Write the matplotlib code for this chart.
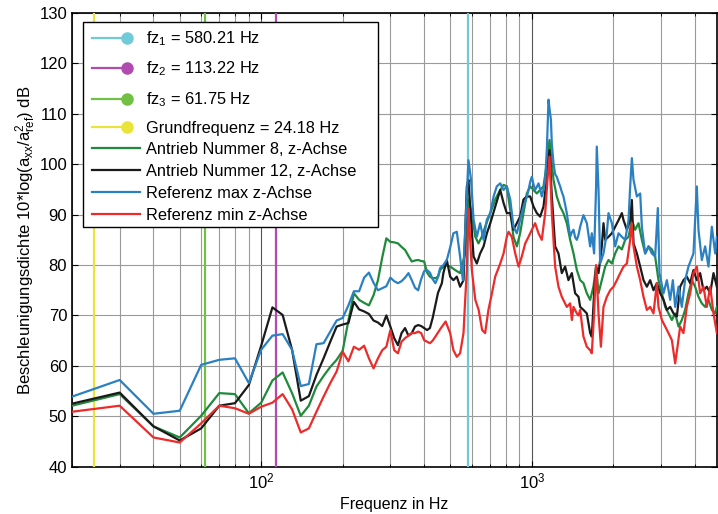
import matplotlib
matplotlib.use("Agg")
import matplotlib.pyplot as plt
from matplotlib.lines import Line2D
from matplotlib.patches import Rectangle
from matplotlib.legend_handler import HandlerBase
from matplotlib.ticker import LogLocator, NullFormatter, MultipleLocator

plt.rcParams['font.family'] = ['Liberation Sans', 'DejaVu Sans']
plt.rcParams['mathtext.fontset'] = 'custom'
plt.rcParams['mathtext.rm'] = 'Liberation Sans'
plt.rcParams['mathtext.it'] = 'Liberation Sans:italic'
plt.rcParams['mathtext.default'] = 'regular'

# Eigenfrequenzen (Stems)
stem_freqs = [580.21, 113.22, 61.75, 24.18]
stem_labels = ['fz$_1$ = 580.21 Hz', 'fz$_2$ = 113.22 Hz', 'fz$_3$ = 61.75 Hz',
               'Grundfrequenz = 24.18 Hz']
stem_colors = ['#6fcbd9', '#b24bb0', '#72c043', '#e9e43a']

# Referenz max z-Achse
f_max = [20, 30, 40, 50, 60, 70, 80, 90, 100, 110, 120, 130, 140, 150, 160, 170, 180,
         190, 200, 210, 220, 230, 240, 250, 260, 270, 280, 290, 300, 310, 320, 330, 340,
         350, 360, 370, 380, 390, 400, 410, 420, 430, 440, 450, 458, 471, 485, 499, 513,
         528, 543, 556, 567, 583, 596, 609, 626, 644, 663, 682, 702, 722, 742, 764, 786,
         808, 832, 855, 880, 905, 931, 958, 972, 986, 1000, 1014, 1028, 1043, 1058, 1073,
         1088, 1104, 1120, 1136, 1152, 1162, 1176, 1185, 1202, 1219, 1236, 1254, 1272,
         1290, 1308, 1327, 1346, 1365, 1385, 1405, 1425, 1445, 1466, 1487, 1508, 1551,
         1596, 1642, 1665, 1698, 1727, 1737, 1763, 1788, 1839, 1892, 1919, 1975, 2031,
         2090, 2150, 2212, 2276, 2308, 2341, 2374, 2443, 2513, 2549, 2622, 2698, 2775,
         2854, 2920, 2961, 3065, 3153, 3243, 3318, 3384, 3482, 3581, 3683, 3789, 3954,
         4068, 4126, 4245, 4367, 4493, 4623, 4756, 4824]
db_max = [53.9, 57.2, 50.5, 51.1, 60.2, 61.2, 61.5, 56.6, 63.2, 66.0, 66.3, 63.2, 56.0,
          56.4, 64.3, 64.5, 66.8, 69.0, 69.5, 72.0, 74.8, 74.8, 77.5, 78.5, 76.5, 75.0,
          75.4, 75.8, 77.5, 76.8, 76.4, 76.8, 77.5, 78.4, 77.0, 75.5, 75.0, 77.2, 78.8,
          79.0, 78.5, 77.2, 76.4, 77.6, 79.4, 80.0, 81.0, 83.5, 86.3, 86.6, 81.7, 77.0,
          87.0, 100.8, 96.9, 89.0, 85.6, 88.3, 85.0, 89.0, 90.3, 93.6, 95.6, 96.2, 94.9,
          95.6, 93.0, 87.6, 86.3, 89.0, 91.6, 93.5, 94.9, 96.5, 97.5, 96.0, 94.9, 95.5,
          96.2, 95.0, 93.6, 95.0, 96.9, 103.0, 112.8, 111.0, 108.8, 104.0, 100.2, 98.0,
          97.5, 96.5, 95.6, 94.5, 93.6, 92.0, 90.3, 88.0, 85.6, 86.5, 87.0, 85.5, 85.0,
          86.0, 87.6, 89.9, 88.3, 83.7, 86.3, 82.3, 95.6, 103.5, 94.9, 80.3, 82.3, 86.3,
          90.3, 88.3, 83.7, 86.3, 85.6, 85.0, 88.9, 95.6, 101.2, 96.9, 93.6, 94.2, 87.6,
          82.3, 83.7, 82.3, 81.7, 91.3, 78.4, 74.4, 77.0, 73.1, 77.0, 71.7, 75.7, 71.7,
          77.0, 79.7, 82.3, 95.6, 87.0, 81.0, 83.7, 79.7, 87.6, 82.3, 85.6]

# Antrieb Nummer 12, z-Achse
f_a12 = [20, 30, 40, 50, 60, 70, 80, 90, 100, 110, 120, 130, 140, 150, 160, 170, 180,
         190, 200, 210, 220, 230, 240, 250, 260, 270, 280, 290, 300, 310, 320, 330, 340,
         350, 360, 370, 380, 390, 400, 410, 420, 430, 440, 450, 465, 471, 485, 499, 513,
         528, 543, 559, 575, 583, 596, 609, 626, 644, 663, 682, 702, 732, 764, 786, 808,
         832, 855, 880, 905, 931, 958, 986, 1014, 1043, 1073, 1104, 1136, 1162, 1185,
         1219, 1254, 1290, 1327, 1365, 1405, 1445, 1487, 1508, 1551, 1596, 1642, 1665,
         1698, 1727, 1763, 1813, 1839, 1866, 1919, 1975, 2031, 2090, 2150, 2181, 2244,
         2308, 2341, 2374, 2443, 2513, 2585, 2660, 2735, 2814, 2895, 2979, 3065, 3153,
         3243, 3337, 3433, 3530, 3631, 3736, 3844, 3954, 4068, 4185, 4305, 4430, 4558,
         4689, 4824]
db_a12 = [52.5, 54.7, 48.0, 45.2, 47.6, 52.1, 52.6, 56.2, 64.0, 71.6, 70.1, 63.2, 53.1,
          54.0, 58.2, 61.5, 64.8, 67.8, 68.2, 68.5, 72.7, 71.2, 70.8, 70.3, 69.0, 68.6,
          67.9, 70.0, 67.8, 65.5, 64.1, 66.5, 67.5, 66.0, 66.5, 67.8, 68.1, 67.9, 67.5,
          67.1, 67.5, 69.5, 72.0, 74.5, 76.4, 78.4, 81.0, 77.7, 77.0, 77.7, 75.7, 77.0,
          95.6, 96.9, 89.0, 81.7, 80.3, 82.3, 83.7, 86.3, 88.3, 91.6, 94.9, 92.3, 90.3,
          90.3, 87.0, 88.3, 89.6, 93.0, 93.6, 93.6, 91.6, 90.3, 89.6, 91.6, 97.5, 102.8,
          93.6, 83.7, 82.3, 78.4, 79.7, 77.0, 78.4, 74.4, 73.7, 71.7, 71.1, 70.4, 66.5,
          65.8, 74.4, 79.7, 78.4, 83.7, 88.3, 85.0, 85.6, 86.3, 87.6, 88.9, 90.3, 88.9,
          87.0, 88.9, 92.9, 84.3, 82.3, 79.7, 77.0, 75.7, 77.0, 75.0, 76.4, 74.4, 73.1,
          71.1, 71.7, 70.4, 69.8, 75.7, 77.0, 77.7, 76.4, 79.0, 77.0, 78.4, 75.0, 75.7,
          74.4, 78.4, 75.7]

# Antrieb Nummer 8, z-Achse
f_a8 = [20, 30, 40, 50, 60, 70, 80, 90, 100, 110, 120, 130, 140, 150, 160, 170, 180,
        190, 200, 210, 220, 230, 240, 250, 260, 270, 280, 290, 300, 310, 320, 330, 340,
        350, 360, 370, 380, 390, 400, 410, 420, 430, 440, 450, 458, 478, 499, 521, 543,
        567, 583, 600, 618, 635, 653, 672, 702, 732, 764, 786, 808, 832, 855, 880, 905,
        931, 958, 986, 1014, 1043, 1073, 1104, 1136, 1162, 1202, 1236, 1272, 1308, 1346,
        1385, 1425, 1466, 1508, 1551, 1596, 1642, 1688, 1727, 1763, 1813, 1866, 1919,
        1975, 2031, 2090, 2150, 2212, 2276, 2341, 2408, 2477, 2549, 2622, 2698, 2775,
        2854, 2936, 3022, 3108, 3198, 3290, 3384, 3482, 3581, 3683, 3789, 3899, 4011,
        4126, 4245, 4367, 4493, 4623, 4756, 4824]
db_a8 = [52.1, 54.4, 48.0, 45.8, 50.1, 54.6, 54.4, 50.6, 52.7, 57.1, 58.7, 54.6, 50.1,
         52.1, 55.9, 58.0, 59.8, 61.2, 63.0, 69.0, 74.4, 73.1, 72.5, 72.0, 74.0, 77.0,
         81.5, 85.3, 84.6, 84.5, 84.3, 83.6, 83.0, 81.8, 80.7, 80.9, 81.0, 80.8, 80.7,
         78.5, 77.7, 77.4, 77.4, 77.7, 79.0, 80.0, 79.7, 79.0, 78.4, 82.3, 93.0, 90.3,
         85.6, 84.3, 85.6, 87.6, 90.3, 93.0, 94.9, 95.9, 95.6, 90.9, 85.6, 83.7, 86.3,
         90.3, 94.2, 95.6, 94.9, 94.2, 94.9, 95.6, 100.2, 104.8, 96.9, 93.6, 91.6, 90.3,
         88.3, 85.0, 82.3, 79.0, 77.0, 76.4, 74.4, 73.1, 75.7, 79.7, 74.4, 77.0, 79.7,
         81.0, 80.3, 82.3, 83.7, 83.1, 85.0, 85.6, 88.9, 87.0, 88.3, 85.0, 82.3, 83.7,
         83.1, 81.7, 77.0, 74.4, 71.7, 70.4, 69.1, 70.4, 67.8, 69.1, 71.1, 74.4, 77.0,
         75.7, 73.7, 72.4, 71.7, 73.1, 71.1, 70.4, 71.7]

# Referenz min z-Achse
f_min = [20, 30, 40, 50, 60, 70, 80, 90, 100, 110, 120, 130, 140, 150, 160, 170, 180,
         190, 200, 210, 220, 230, 240, 250, 260, 270, 280, 290, 300, 310, 320, 330, 340,
         350, 360, 370, 380, 390, 400, 410, 420, 430, 440, 460, 480, 499, 513, 528, 543,
         559, 567, 575, 583, 600, 618, 636, 655, 672, 691, 712, 732, 764, 786, 808, 820,
         843, 868, 893, 918, 945, 972, 1000, 1028, 1058, 1088, 1120, 1142, 1162, 1185,
         1219, 1254, 1290, 1346, 1385, 1405, 1425, 1466, 1487, 1508, 1551, 1596, 1642,
         1665, 1698, 1727, 1763, 1799, 1839, 1892, 1947, 2003, 2061, 2120, 2181, 2244,
         2308, 2341, 2374, 2443, 2513, 2585, 2660, 2735, 2814, 2895, 2936, 3022, 3108,
         3198, 3290, 3384, 3452, 3530, 3631, 3736, 3844, 3954, 4068, 4185, 4305, 4430,
         4558, 4689, 4824]
db_min = [50.9, 52.1, 45.8, 44.8, 48.6, 52.1, 51.6, 50.5, 51.9, 52.7, 54.4, 51.4, 46.8,
          47.6, 50.9, 53.9, 56.6, 58.9, 62.8, 60.9, 63.8, 63.2, 64.0, 61.5, 59.5, 61.5,
          63.1, 63.8, 67.1, 63.1, 62.5, 64.8, 65.5, 66.0, 66.5, 66.5, 66.8, 66.5, 65.1,
          64.8, 64.5, 65.0, 65.8, 67.4, 68.8, 66.5, 63.1, 61.8, 62.5, 66.5, 73.1, 79.0,
          91.3, 79.0, 73.1, 71.1, 67.1, 66.5, 71.1, 74.4, 77.7, 80.3, 82.3, 85.6, 86.6,
          85.6, 82.3, 79.7, 81.7, 84.3, 85.6, 87.0, 88.3, 86.3, 85.0, 90.3, 96.9, 101.5,
          90.3, 79.7, 75.7, 73.7, 71.7, 72.4, 69.1, 71.7, 70.4, 70.0, 71.1, 65.8, 63.8,
          63.1, 62.5, 70.4, 80.0, 70.4, 63.8, 71.7, 73.7, 75.0, 75.7, 77.0, 78.4, 79.7,
          80.3, 85.0, 88.3, 83.7, 79.7, 77.0, 73.7, 71.1, 71.7, 70.4, 76.4, 71.7, 69.1,
          67.8, 66.5, 65.1, 60.5, 63.8, 67.8, 66.5, 71.7, 74.4, 78.4, 79.7, 74.4, 75.7,
          71.7, 75.7, 70.4, 66.5]

fig = plt.figure(figsize=(7.18, 5.14), dpi=100)
ax = fig.add_axes([0.1003, 0.092, 0.8983, 0.8828])

for fz, c in zip(stem_freqs, stem_colors):
    ax.axvline(fz, color=c, lw=1.6, zorder=3)

series = [
    (f_a8, db_a8, '#1f8a3b', 'Antrieb Nummer 8, z-Achse'),
    (f_a12, db_a12, '#1a1a1a', 'Antrieb Nummer 12, z-Achse'),
    (f_max, db_max, '#2b80c2', 'Referenz max z-Achse'),
    (f_min, db_min, '#ee2b2b', 'Referenz min z-Achse'),
]
line_handles = []
for f, db, c, lab in series:
    h, = ax.plot(f, db, color=c, lw=1.6, label=lab, zorder=4)
    line_handles.append(h)

ax.set_xscale('log')
ax.set_xlim(20, 4830)
ax.set_ylim(40, 130)
ax.yaxis.set_major_locator(MultipleLocator(10))
ax.xaxis.set_major_locator(LogLocator(base=10, numticks=10))
ax.xaxis.set_minor_locator(LogLocator(base=10, subs=range(2, 10), numticks=20))
ax.xaxis.set_minor_formatter(NullFormatter())

ax.grid(True, which='major', axis='y', color='#9a9a9a', lw=0.8)
ax.grid(True, which='major', axis='x', color='#555555', lw=0.8)
ax.grid(True, which='minor', axis='x', color='#9a9a9a', lw=0.8)
ax.set_axisbelow(True)

ax.tick_params(which='both', direction='in', top=True, right=True, labelsize=12)
ax.tick_params(which='major', length=4)
ax.tick_params(which='minor', length=2)
for s in ax.spines.values():
    s.set_linewidth(1.2)

ax.set_xlabel('Frequenz in Hz', fontsize=11.5)
ax.set_ylabel(r'Beschleunigungsdichte 10*log(a$_{xx}$/a$^{2}_{ref}$) dB', fontsize=12,
              labelpad=1)


class StemHandler(HandlerBase):
    """Legend entry for a stem: short line ending in a circle marker."""
    def create_artists(self, legend, orig, xdescent, ydescent, width, height,
                       fontsize, trans):
        y = height / 2 - ydescent
        c = orig.get_color()
        ln = Line2D([-xdescent, -xdescent + 0.72 * width], [y, y], color=c, lw=1.6)
        mk = Line2D([-xdescent + 0.72 * width], [y], marker='o', markersize=8,
                    markerfacecolor=c, markeredgecolor=c, linestyle='none')
        ln.set_transform(trans)
        mk.set_transform(trans)
        return [ln, mk]


stem_handles = [Line2D([], [], color=c) for c in stem_colors]
handler = StemHandler()
common = dict(loc='upper left', fontsize=11.8, frameon=False, borderpad=0,
              handlelength=2.95, handletextpad=0.35, borderaxespad=0)

leg_a = ax.legend(stem_handles, stem_labels, bbox_to_anchor=(0.031, 0.964),
                  labelspacing=0.72, handler_map={h: handler for h in stem_handles},
                  **common)
leg_a.set_zorder(10)
ax.add_artist(leg_a)
leg_b = ax.legend(line_handles, [s[3] for s in series], bbox_to_anchor=(0.031, 0.716),
                  labelspacing=0.43, **common)
leg_b.set_zorder(10)

frame = Rectangle((0.0175, 0.5292), 0.4574, 0.4514, transform=ax.transAxes,
                  facecolor='white', edgecolor='black', lw=1.0, zorder=9)
ax.add_patch(frame)

fig.savefig('out.png', dpi=100)
